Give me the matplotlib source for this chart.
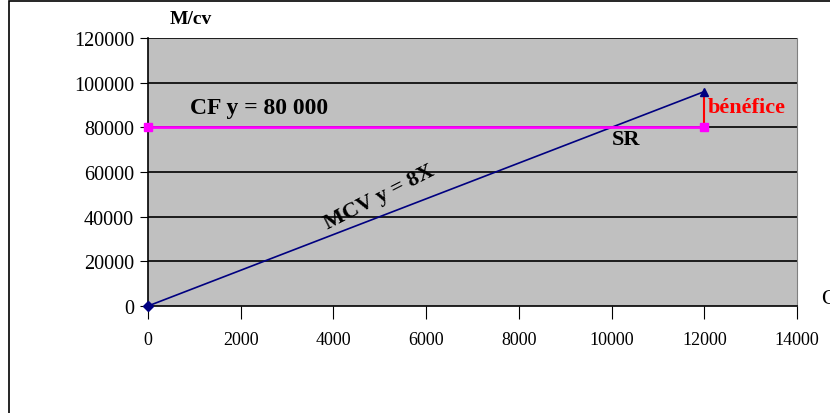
import matplotlib
matplotlib.use("Agg")
import matplotlib.pyplot as plt
from matplotlib.patches import Rectangle

# data
mcv_x = [0, 12000]
mcv_y = [0, 96000]
cf_x = [0, 12000]
cf_y = [80000, 80000]
benef_x = [12000, 12000]
benef_y = [80000, 96000]
x_ticks = [0, 2000, 4000, 6000, 8000, 10000, 12000, 14000]
y_ticks = [0, 20000, 40000, 60000, 80000, 100000, 120000]

plt.rcParams['font.family'] = ['Liberation Serif', 'DejaVu Serif']

fig = plt.figure(figsize=(8.3, 4.14), dpi=100)
ax = fig.add_axes([148 / 830, 1 - 307 / 414, (797 - 148) / 830, (307 - 39) / 414])
ax.set_facecolor('#c0c0c0')

# outer chart border
fig.patches.append(Rectangle((9 / 830, -0.1), 1.2, 1 - 2 / 414 + 0.1, transform=fig.transFigure,
                             fill=False, edgecolor='black', linewidth=1.2))

for yv in y_ticks[1:]:
    ax.axhline(yv, color='black', linewidth=1.2, zorder=1)

ax.plot(mcv_x, mcv_y, color='#000080', linewidth=1.2, zorder=3)
ax.plot(mcv_x[:1], mcv_y[:1], marker='D', color='#000080', markersize=5, zorder=4, clip_on=False)
ax.plot(mcv_x[1:], mcv_y[1:], marker='^', color='#000080', markersize=6, zorder=4, clip_on=False)
ax.plot(cf_x, cf_y, color='#ff00ff', linewidth=2, marker='s', markersize=6, zorder=3, clip_on=False)
ax.plot(benef_x, benef_y, color='#ff0000', linewidth=1.5, zorder=2)

ax.set_xlim(0, 14000)
ax.set_ylim(0, 120000)
ax.set_xticks(x_ticks)
ax.set_yticks(y_ticks)
ax.tick_params(axis='y', direction='out', length=6, labelsize=14.5, pad=4)
ax.tick_params(axis='x', direction='out', length=9, labelsize=13, pad=9)

ax.spines['left'].set_color('black')
ax.spines['bottom'].set_color('black')
ax.spines['left'].set_linewidth(1.2)
ax.spines['bottom'].set_linewidth(1.2)
ax.spines['top'].set_visible(False)
ax.spines['right'].set_color('#808080')

ax.text(900, 89000, 'CF y = 80 000', fontsize=17, fontweight='bold', ha='left', va='center')
ax.text(10000, 74800, 'SR', fontsize=16, fontweight='bold', ha='left', va='center')
ax.text(12080, 89000, 'bénéfice', fontsize=16, fontweight='bold', color='#ff0000', ha='left', va='center')
ax.text(5000, 48800, 'MCV y = 8X', fontsize=16, fontweight='bold', ha='center', va='center', rotation=27)
fig.text(170 / 830, 1 - 20 / 414, 'M/cv', fontsize=14, fontweight='bold', ha='left', va='center')
fig.text(821 / 830, 1 - 300 / 414, 'Q', fontsize=16, ha='left', va='center')

fig.savefig('out.png', dpi=100)
